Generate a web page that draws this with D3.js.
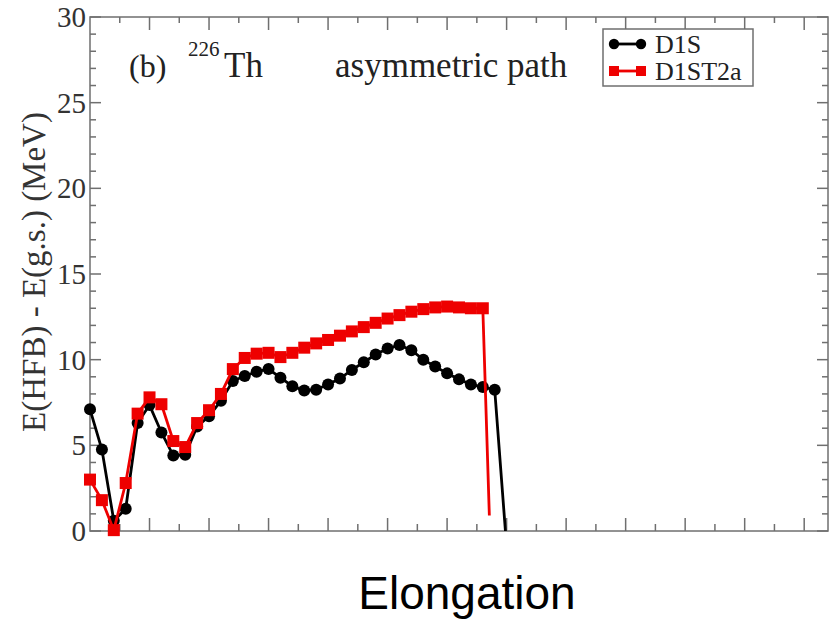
<!DOCTYPE html>
<html>
<head>
<meta charset="utf-8">
<script src="https://cdn.jsdelivr.net/npm/d3@7"></script>
<style>
  html, body { margin: 0; padding: 0; background: #fff; }
  svg { display: block; }
</style>
</head>
<body>
<svg id="chart" width="833" height="621"></svg>
<script>
// ---- data ----
const xD1S = [0.0, 0.2, 0.4, 0.6, 0.8, 1.0, 1.2, 1.4, 1.6, 1.8, 2.0, 2.2, 2.4, 2.6, 2.8, 3.0, 3.2, 3.4,
              3.6, 3.8, 4.0, 4.2, 4.4, 4.6, 4.8, 5.0, 5.2, 5.4, 5.6, 5.8, 6.0, 6.2, 6.4, 6.6, 6.8];
const yD1S = [7.1, 4.75, 0.6, 1.3, 6.3, 7.35, 5.75, 4.4, 4.45, 6.1, 6.7, 7.6, 8.75, 9.05, 9.3, 9.45, 8.95, 8.45,
              8.2, 8.25, 8.55, 8.9, 9.4, 9.85, 10.3, 10.65, 10.85, 10.55, 10.0, 9.6, 9.2, 8.85, 8.55, 8.4, 8.25];
const xD1SEnd = [6.98];
const yD1SEnd = [0.0];

const xD1ST2a = [0.0, 0.2, 0.4, 0.6, 0.8, 1.0, 1.2, 1.4, 1.6, 1.8, 2.0, 2.2, 2.4, 2.6, 2.8, 3.0, 3.2,
                 3.4, 3.6, 3.8, 4.0, 4.2, 4.4, 4.6, 4.8, 5.0, 5.2, 5.4, 5.6, 5.8, 6.0, 6.2, 6.4, 6.6];
const yD1ST2a = [3.0, 1.8, 0.05, 2.8, 6.85, 7.8, 7.4, 5.25, 4.9, 6.3, 7.05, 8.0, 9.45, 10.1, 10.35, 10.4, 10.15,
                 10.4, 10.7, 10.95, 11.15, 11.4, 11.65, 11.9, 12.15, 12.4, 12.6, 12.8, 12.95, 13.05, 13.1, 13.05, 13.0, 13.0];
const xD1ST2aEnd = [6.71];
const yD1ST2aEnd = [0.9];

const seriesNames = ["D1S", "D1ST2a"];
const yTickLabels = [0, 5, 10, 15, 20, 25, 30];
const yLabel = "E(HFB) - E(g.s.) (MeV)";
const xLabel = "Elongation";

// ---- layout ----
const svg = d3.select("#chart");
const L = 90, R = 828, T = 17, B = 531;
const x = d3.scaleLinear().domain([0, 12.4]).range([L, R]);
const y = d3.scaleLinear().domain([0, 30]).range([B, T]);
const frameColor = "#6f6f6f";
const serif = "'Liberation Serif', 'Times New Roman', serif";

// frame
svg.append("rect").attr("x", L).attr("y", T).attr("width", R - L).attr("height", B - T)
  .attr("fill", "none").attr("stroke", frameColor).attr("stroke-width", 1.5);

// x ticks (inward, bottom and top)
const xMajor = d3.range(1, 13);
const xMinor = d3.range(0.5, 12.4, 1);
const gx = svg.append("g").attr("stroke", frameColor).attr("stroke-width", 1.5);
xMajor.forEach(v => {
  gx.append("line").attr("x1", x(v)).attr("x2", x(v)).attr("y1", B).attr("y2", B - 13);
  gx.append("line").attr("x1", x(v)).attr("x2", x(v)).attr("y1", T).attr("y2", T + 13);
});
xMinor.forEach(v => {
  gx.append("line").attr("x1", x(v)).attr("x2", x(v)).attr("y1", B).attr("y2", B - 7);
  gx.append("line").attr("x1", x(v)).attr("x2", x(v)).attr("y1", T).attr("y2", T + 6);
});

// y ticks (inward, left and right)
const yMinor = d3.range(0, 31).filter(v => v % 5 !== 0);
const gy = svg.append("g").attr("stroke", frameColor).attr("stroke-width", 1.5);
yTickLabels.forEach(v => {
  gy.append("line").attr("x1", L).attr("x2", L + 11).attr("y1", y(v)).attr("y2", y(v));
  gy.append("line").attr("x1", R).attr("x2", R - 11).attr("y1", y(v)).attr("y2", y(v));
});
yMinor.forEach(v => {
  gy.append("line").attr("x1", L).attr("x2", L + 6).attr("y1", y(v)).attr("y2", y(v));
  gy.append("line").attr("x1", R).attr("x2", R - 6).attr("y1", y(v)).attr("y2", y(v));
});

// y tick labels
svg.append("g").selectAll("text").data(yTickLabels).join("text")
  .attr("x", L - 4).attr("y", d => y(d)).attr("dy", "0.35em")
  .attr("text-anchor", "end").attr("font-family", serif).attr("font-size", 29)
  .attr("fill", "#333").text(d => d);

// y axis label
svg.append("text")
  .attr("transform", `translate(45, 272) rotate(-90)`)
  .attr("text-anchor", "middle").attr("font-family", serif).attr("font-size", 33)
  .attr("fill", "#333").text(yLabel);

// x axis label
svg.append("text").attr("x", 467).attr("y", 609).attr("text-anchor", "middle")
  .attr("font-family", "'Liberation Sans', Arial, sans-serif").attr("font-size", 46)
  .attr("fill", "#000").text(xLabel);

// annotation
const annColor = "#222";
svg.append("text").attr("x", 129).attr("y", 77)
  .attr("font-family", serif).attr("font-size", 32).attr("fill", annColor).text("(b)");
svg.append("text").attr("x", 188).attr("y", 56)
  .attr("font-family", serif).attr("font-size", 21).attr("fill", annColor).text("226");
svg.append("text").attr("x", 224).attr("y", 77)
  .attr("font-family", serif).attr("font-size", 35).attr("fill", annColor).text("Th");
svg.append("text").attr("x", 335).attr("y", 77)
  .attr("font-family", serif).attr("font-size", 35).attr("fill", annColor).text("asymmetric path");

// ---- series ----
const blackPts = xD1S.map((v, i) => [v, yD1S[i]]);
const blackAll = blackPts.concat(xD1SEnd.map((v, i) => [v, yD1SEnd[i]]));
const redPts = xD1ST2a.map((v, i) => [v, yD1ST2a[i]]);
const redAll = redPts.concat(xD1ST2aEnd.map((v, i) => [v, yD1ST2aEnd[i]]));
const line = d3.line().x(d => x(d[0])).y(d => y(d[1]));

const plot = svg.append("g");
plot.append("path").datum(blackAll).attr("d", line)
  .attr("fill", "none").attr("stroke", "#000").attr("stroke-width", 2.8);
plot.append("g").selectAll("circle").data(blackPts).join("circle")
  .attr("cx", d => x(d[0])).attr("cy", d => y(d[1])).attr("r", 6).attr("fill", "#000");

plot.append("path").datum(redAll).attr("d", line)
  .attr("fill", "none").attr("stroke", "#ee0000").attr("stroke-width", 2.8);
const sq = 12;
plot.append("g").selectAll("rect").data(redPts).join("rect")
  .attr("x", d => x(d[0]) - sq / 2).attr("y", d => y(d[1]) - sq / 2)
  .attr("width", sq).attr("height", sq).attr("fill", "#ee0000");

// ---- legend ----
const lg = svg.append("g");
lg.append("rect").attr("x", 603).attr("y", 29).attr("width", 150).attr("height", 57)
  .attr("fill", "#fff").attr("stroke", frameColor).attr("stroke-width", 1.5);
const legendRows = [
  { name: seriesNames[0], color: "#000", shape: "circle", cy: 44 },
  { name: seriesNames[1], color: "#ee0000", shape: "square", cy: 71 }
];
const lsq = 10;
legendRows.forEach(r => {
  lg.append("line").attr("x1", 614).attr("x2", 641).attr("y1", r.cy).attr("y2", r.cy)
    .attr("stroke", r.color).attr("stroke-width", 2.8);
  [614, 641].forEach(cx => {
    if (r.shape === "circle") {
      lg.append("circle").attr("cx", cx).attr("cy", r.cy).attr("r", 5.2).attr("fill", r.color);
    } else {
      lg.append("rect").attr("x", cx - lsq / 2).attr("y", r.cy - lsq / 2).attr("width", lsq).attr("height", lsq).attr("fill", r.color);
    }
  });
  lg.append("text").attr("x", 655).attr("y", r.cy).attr("dy", "0.35em")
    .attr("font-family", serif).attr("font-size", 26).attr("fill", "#222").text(r.name);
});
</script>
</body>
</html>
